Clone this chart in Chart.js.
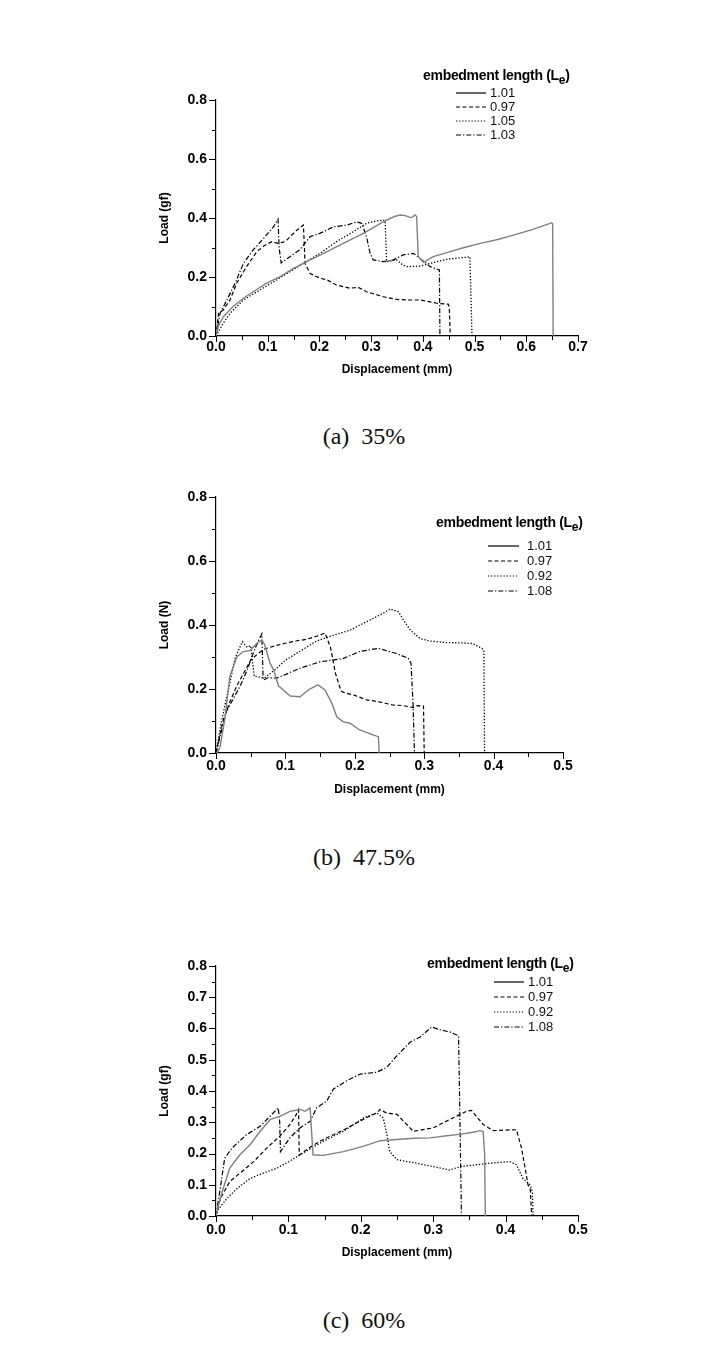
<!DOCTYPE html>
<html>
<head>
<meta charset="utf-8">
<script src="https://cdn.jsdelivr.net/npm/chart.js@4.4.0/dist/chart.umd.min.js"></script>
<style>
  body { margin: 0; background: #fff; width: 728px; height: 1361px; position: relative; overflow: hidden;
         font-family: "Liberation Sans", Arial, sans-serif; }
  canvas { position: absolute; left: 0; }
  .lgTitle { position: absolute; font-weight: bold; font-size: 14px; line-height: 16px; letter-spacing: -0.3px; color: #000; white-space: nowrap; }
  .lgTitle sub { font-size: 12px; vertical-align: -4px; line-height: 0; }
  .lgRow { position: absolute; height: 14px; white-space: nowrap; }
  .lgRow svg { position: absolute; left: 0; top: 6px; }
  .lgRow span { position: absolute; top: 0; font-size: 13px; line-height: 14px; color: #111; }
  .caption { position: absolute; left: 0; width: 728px; text-align: center; font-family: "Liberation Serif", "DejaVu Serif", serif;
             font-size: 24px; line-height: 26px; white-space: pre; color: #111; }
</style>
</head>
<body>
<canvas id="chartA" width="728" height="297" style="top:80px"></canvas>
<canvas id="chartB" width="728" height="320" style="top:477px"></canvas>
<canvas id="chartC" width="728" height="314" style="top:946px"></canvas>
<div class="caption" style="top:423px">(a)  35%</div>
<div class="caption" style="top:844px">(b)  47.5%</div>
<div class="caption" style="top:1307px">(c)  60%</div>

<script>
// ---- (a) 35% ----
const aLabels = ['1.01', '0.97', '1.05', '1.03'];
const aX101 = [0, 0.005, 0.014, 0.033, 0.053, 0.072, 0.098, 0.124, 0.15, 0.175, 0.208, 0.246, 0.285, 0.324, 0.345, 0.356, 0.366, 0.375, 0.38, 0.385, 0.388, 0.391, 0.401, 0.42, 0.453, 0.48, 0.511, 0.545, 0.575, 0.61, 0.646, 0.649, 0.651, 0.652];
const aY101 = [0, 0.035, 0.065, 0.1, 0.128, 0.15, 0.179, 0.201, 0.229, 0.252, 0.28, 0.314, 0.348, 0.388, 0.405, 0.41, 0.408, 0.402, 0.403, 0.41, 0.405, 0.27, 0.25, 0.269, 0.286, 0.3, 0.314, 0.327, 0.342, 0.36, 0.382, 0.384, 0.38, 0];
const aX097 = [0, 0.005, 0.014, 0.027, 0.04, 0.059, 0.079, 0.095, 0.108, 0.12, 0.13, 0.137, 0.153, 0.169, 0.171, 0.172, 0.182, 0.201, 0.215, 0.233, 0.259, 0.275, 0.291, 0.324, 0.349, 0.375, 0.395, 0.427, 0.449, 0.451, 0.453];
const aY097 = [0, 0.077, 0.088, 0.122, 0.179, 0.235, 0.286, 0.308, 0.32, 0.314, 0.318, 0.325, 0.354, 0.376, 0.3, 0.246, 0.212, 0.196, 0.19, 0.173, 0.162, 0.165, 0.15, 0.133, 0.124, 0.122, 0.122, 0.111, 0.108, 0.1, 0];
const aX105 = [0, 0.014, 0.027, 0.053, 0.085, 0.117, 0.143, 0.169, 0.201, 0.233, 0.266, 0.291, 0.31, 0.324, 0.327, 0.33, 0.349, 0.362, 0.369, 0.395, 0.414, 0.446, 0.47, 0.485, 0.491, 0.495];
const aY105 = [0, 0.043, 0.077, 0.122, 0.156, 0.19, 0.218, 0.246, 0.28, 0.32, 0.354, 0.382, 0.39, 0.393, 0.39, 0.252, 0.258, 0.24, 0.235, 0.237, 0.246, 0.26, 0.265, 0.267, 0.269, 0];
const aX103 = [0, 0.008, 0.021, 0.037, 0.053, 0.072, 0.092, 0.111, 0.12, 0.122, 0.126, 0.143, 0.162, 0.182, 0.201, 0.227, 0.253, 0.272, 0.282, 0.291, 0.298, 0.304, 0.324, 0.343, 0.362, 0.382, 0.398, 0.414, 0.432, 0.433];
const aY103 = [0, 0.077, 0.122, 0.179, 0.246, 0.292, 0.331, 0.37, 0.396, 0.3, 0.248, 0.269, 0.292, 0.337, 0.348, 0.37, 0.376, 0.387, 0.382, 0.337, 0.28, 0.258, 0.252, 0.258, 0.275, 0.28, 0.258, 0.235, 0.224, 0];

// ---- (b) 47.5% ----
const bLabels = ['1.01', '0.97', '0.92', '1.08'];
const bX101 = [0, 0.003, 0.006, 0.013, 0.02, 0.03, 0.039, 0.049, 0.059, 0.066, 0.07, 0.078, 0.083, 0.09, 0.107, 0.121, 0.135, 0.147, 0.157, 0.167, 0.174, 0.183, 0.193, 0.207, 0.227, 0.234, 0.235];
const bY101 = [0, 0.005, 0.02, 0.11, 0.24, 0.3, 0.317, 0.32, 0.343, 0.353, 0.34, 0.28, 0.26, 0.21, 0.178, 0.176, 0.2, 0.213, 0.197, 0.155, 0.113, 0.098, 0.093, 0.072, 0.056, 0.051, 0];
const bX097 = [0, 0.01, 0.02, 0.03, 0.04, 0.05, 0.06, 0.07, 0.085, 0.1, 0.115, 0.13, 0.145, 0.157, 0.165, 0.172, 0.18, 0.183, 0.2, 0.217, 0.235, 0.255, 0.27, 0.284, 0.29, 0.299, 0.3];
const bY097 = [0, 0.1, 0.16, 0.21, 0.25, 0.29, 0.31, 0.325, 0.335, 0.343, 0.35, 0.355, 0.365, 0.375, 0.33, 0.25, 0.195, 0.19, 0.18, 0.166, 0.16, 0.15, 0.148, 0.142, 0.148, 0.147, 0];
const bX092 = [0, 0.008, 0.018, 0.028, 0.038, 0.045, 0.05, 0.055, 0.07, 0.085, 0.1, 0.115, 0.13, 0.145, 0.164, 0.193, 0.212, 0.236, 0.251, 0.263, 0.27, 0.28, 0.294, 0.308, 0.332, 0.356, 0.37, 0.383, 0.386, 0.387];
const bY092 = [0, 0.1, 0.2, 0.3, 0.348, 0.33, 0.335, 0.24, 0.235, 0.26, 0.29, 0.31, 0.33, 0.35, 0.364, 0.384, 0.405, 0.431, 0.45, 0.441, 0.416, 0.384, 0.358, 0.35, 0.345, 0.344, 0.342, 0.327, 0.32, 0];
const bX108 = [0, 0.008, 0.015, 0.025, 0.035, 0.045, 0.055, 0.062, 0.066, 0.068, 0.075, 0.087, 0.1, 0.121, 0.15, 0.183, 0.207, 0.234, 0.26, 0.277, 0.281, 0.284, 0.286];
const bY108 = [0, 0.07, 0.13, 0.17, 0.21, 0.26, 0.32, 0.355, 0.372, 0.228, 0.235, 0.234, 0.245, 0.265, 0.285, 0.295, 0.317, 0.327, 0.311, 0.296, 0.28, 0.15, 0];

// ---- (c) 60% ----
const cLabels = ['1.01', '0.97', '0.92', '1.08'];
const cX101 = [0, 0.004, 0.01, 0.019, 0.033, 0.047, 0.061, 0.075, 0.088, 0.102, 0.116, 0.123, 0.13, 0.132, 0.134, 0.148, 0.176, 0.203, 0.227, 0.25, 0.273, 0.296, 0.319, 0.339, 0.355, 0.365, 0.369, 0.371, 0.372];
const cY101 = [0, 0.04, 0.088, 0.153, 0.196, 0.228, 0.271, 0.309, 0.319, 0.335, 0.341, 0.335, 0.346, 0.27, 0.196, 0.194, 0.206, 0.223, 0.241, 0.245, 0.249, 0.25, 0.257, 0.262, 0.268, 0.273, 0.27, 0.2, 0];
const cX097 = [0, 0.006, 0.019, 0.033, 0.052, 0.07, 0.088, 0.102, 0.111, 0.114, 0.115, 0.13, 0.148, 0.176, 0.204, 0.222, 0.2265, 0.235, 0.25, 0.2725, 0.3, 0.323, 0.346, 0.353, 0.369, 0.383, 0.4, 0.415, 0.422, 0.427, 0.431, 0.434, 0.436];
const cY097 = [0, 0.056, 0.11, 0.137, 0.174, 0.217, 0.255, 0.292, 0.325, 0.34, 0.195, 0.22, 0.245, 0.275, 0.31, 0.33, 0.341, 0.33, 0.325, 0.271, 0.282, 0.309, 0.335, 0.338, 0.293, 0.273, 0.275, 0.276, 0.217, 0.153, 0.099, 0.088, 0];
const cX092 = [0, 0.003, 0.015, 0.03, 0.047, 0.065, 0.084, 0.1, 0.116, 0.148, 0.176, 0.204, 0.222, 0.231, 0.236, 0.24, 0.25, 0.277, 0.3, 0.323, 0.337, 0.36, 0.378, 0.406, 0.415, 0.424, 0.434, 0.437, 0.438];
const cY092 = [0, 0.02, 0.056, 0.09, 0.12, 0.137, 0.153, 0.173, 0.196, 0.239, 0.271, 0.314, 0.33, 0.314, 0.26, 0.206, 0.18, 0.169, 0.158, 0.147, 0.158, 0.164, 0.169, 0.174, 0.164, 0.12, 0.099, 0.077, 0];
const cX108 = [0, 0.006, 0.012, 0.022, 0.042, 0.061, 0.075, 0.086, 0.088, 0.089, 0.102, 0.116, 0.13, 0.139, 0.153, 0.162, 0.18, 0.199, 0.222, 0.236, 0.25, 0.268, 0.282, 0.298, 0.309, 0.323, 0.335, 0.337, 0.339];
const cY108 = [0, 0.09, 0.185, 0.217, 0.26, 0.287, 0.32, 0.346, 0.3, 0.206, 0.25, 0.282, 0.303, 0.346, 0.368, 0.406, 0.432, 0.454, 0.46, 0.476, 0.513, 0.556, 0.573, 0.605, 0.596, 0.589, 0.577, 0.3, 0];

const lineStyles = [
  { color: '#808080', dash: [], width: 1.4 },             // solid
  { color: '#000', dash: [4, 2.5], width: 1.2 },          // dashed
  { color: '#000', dash: [1.3, 1.8], width: 1.3 },        // dotted
  { color: '#000', dash: [5, 2, 1.3, 2], width: 1.2 }     // dash-dot
];

function toPoints(xs, ys) {
  return xs.map((x, i) => ({ x: x, y: ys[i] }));
}

// outward major/minor tick marks on both axes
const tickMarks = {
  id: 'tickMarks',
  afterDraw(chart, args, opts) {
    const ctx = chart.ctx;
    const sx = chart.scales.x, sy = chart.scales.y;
    ctx.save();
    ctx.strokeStyle = '#000';
    ctx.lineWidth = 1;
    ctx.beginPath();
    const nx = Math.round(sx.max / opts.xMinor);
    for (let i = 0; i <= nx; i++) {
      const r = (i * opts.xMinor / opts.xMajor) % 1;
      const major = r < 1e-6 || r > 1 - 1e-6;
      const px = Math.round(sx.getPixelForValue(i * opts.xMinor)) + 0.5;
      ctx.moveTo(px, sy.bottom);
      ctx.lineTo(px, sy.bottom + (major ? 6 : 4));
    }
    const ny = Math.round(sy.max / opts.yMinor);
    for (let i = 0; i <= ny; i++) {
      const r = (i * opts.yMinor / opts.yMajor) % 1;
      const major = r < 1e-6 || r > 1 - 1e-6;
      const py = Math.round(sy.getPixelForValue(i * opts.yMinor)) + 0.5;
      ctx.moveTo(sx.left, py);
      ctx.lineTo(sx.left - (major ? 7 : 4), py);
    }
    ctx.stroke();
    ctx.restore();
  }
};

function makeChart(id, cfg) {
  const datasets = cfg.series.map((s, i) => ({
    label: cfg.labels[i],
    data: toPoints(s[0], s[1]),
    borderColor: lineStyles[i].color,
    borderDash: lineStyles[i].dash,
    borderWidth: lineStyles[i].width,
    pointRadius: 0,
    tension: 0,
    fill: false
  }));
  return new Chart(document.getElementById(id), {
    type: 'line',
    data: { datasets: datasets },
    plugins: [tickMarks],
    options: {
      responsive: false,
      animation: false,
      devicePixelRatio: 1,
      events: [],
      layout: { padding: { left: 0, top: 20, right: cfg.padRight, bottom: 0 } },
      plugins: {
        legend: { display: false },
        tooltip: { enabled: false },
        tickMarks: { xMinor: 0.05, xMajor: 0.1, yMinor: cfg.yMinor, yMajor: cfg.yStep }
      },
      scales: {
        x: {
          type: 'linear', min: 0, max: cfg.xMax,
          afterFit: (s) => { s.height = cfg.xAxisH; },
          border: { display: true, color: '#000', width: 1.2 },
          grid: { display: true, drawOnChartArea: false, drawTicks: false },
          ticks: { stepSize: 0.1, padding: cfg.xTickPad, color: '#000', maxRotation: 0,
                   font: { family: 'Liberation Sans', size: 14, weight: 'bold' },
                   callback: (v) => v.toFixed(1) },
          title: { display: true, text: 'Displacement (mm)', color: '#000', padding: 0,
                   font: { family: 'Liberation Sans', size: 12, weight: 'bold' } }
        },
        y: {
          type: 'linear', min: 0, max: 0.8,
          afterFit: (s) => { s.width = 216; },
          border: { display: true, color: '#000', width: 1.2 },
          grid: { display: true, drawOnChartArea: false, drawTicks: false },
          ticks: { stepSize: cfg.yStep, padding: 9, color: '#000',
                   font: { family: 'Liberation Sans', size: 14, weight: 'bold' },
                   callback: (v) => v.toFixed(1) },
          title: { display: true, text: cfg.yTitle, color: '#000', padding: { top: 157.5, bottom: 0 },
                   font: { family: 'Liberation Sans', size: 12, weight: 'bold' } }
        }
      }
    }
  });
}

function makeLegend(chart, pos) {
  const t = document.createElement('div');
  t.className = 'lgTitle';
  t.style.left = pos.titleX + 'px';
  t.style.top = pos.titleY + 'px';
  t.innerHTML = 'embedment length (L<sub>e</sub>)';
  document.body.appendChild(t);
  chart.data.datasets.forEach((ds, i) => {
    const row = document.createElement('div');
    row.className = 'lgRow';
    row.style.left = pos.lineX + 'px';
    row.style.top = (pos.rowY + i * pos.rowGap - 7) + 'px';
    const dash = ds.borderDash.length ? ds.borderDash.join(' ') : 'none';
    row.innerHTML = '<svg width="' + pos.lineW + '" height="2"><line x1="0" y1="1" x2="' + pos.lineW +
      '" y2="1" stroke="#000" stroke-width="1.2" stroke-dasharray="' + dash + '"/></svg>' +
      '<span style="left:' + pos.textDx + 'px">' + ds.label + '</span>';
    document.body.appendChild(row);
  });
}

const chartA = makeChart('chartA', {
  labels: aLabels,
  series: [[aX101, aY101], [aX097, aY097], [aX105, aY105], [aX103, aY103]],
  xMax: 0.7, padRight: 150, xAxisH: 41, xTickPad: 3, yStep: 0.2, yMinor: 0.1, yTitle: 'Load (gf)'
});
const chartB = makeChart('chartB', {
  labels: bLabels,
  series: [[bX101, bY101], [bX097, bY097], [bX092, bY092], [bX108, bY108]],
  xMax: 0.5, padRight: 165, xAxisH: 44, xTickPad: 5, yStep: 0.2, yMinor: 0.1, yTitle: 'Load (N)'
});
const chartC = makeChart('chartC', {
  labels: cLabels,
  series: [[cX101, cY101], [cX097, cY097], [cX092, cY092], [cX108, cY108]],
  xMax: 0.5, padRight: 150, xAxisH: 44, xTickPad: 6, yStep: 0.1, yMinor: 0.05, yTitle: 'Load (gf)'
});

makeLegend(chartA, { titleX: 423, titleY: 67, lineX: 456, lineW: 30, textDx: 34, rowY: 93, rowGap: 14 });
makeLegend(chartB, { titleX: 436, titleY: 514, lineX: 488, lineW: 31, textDx: 39, rowY: 546, rowGap: 15 });
makeLegend(chartC, { titleX: 427, titleY: 955, lineX: 494, lineW: 30, textDx: 34, rowY: 981.5, rowGap: 15.2 });
</script>
</body>
</html>
